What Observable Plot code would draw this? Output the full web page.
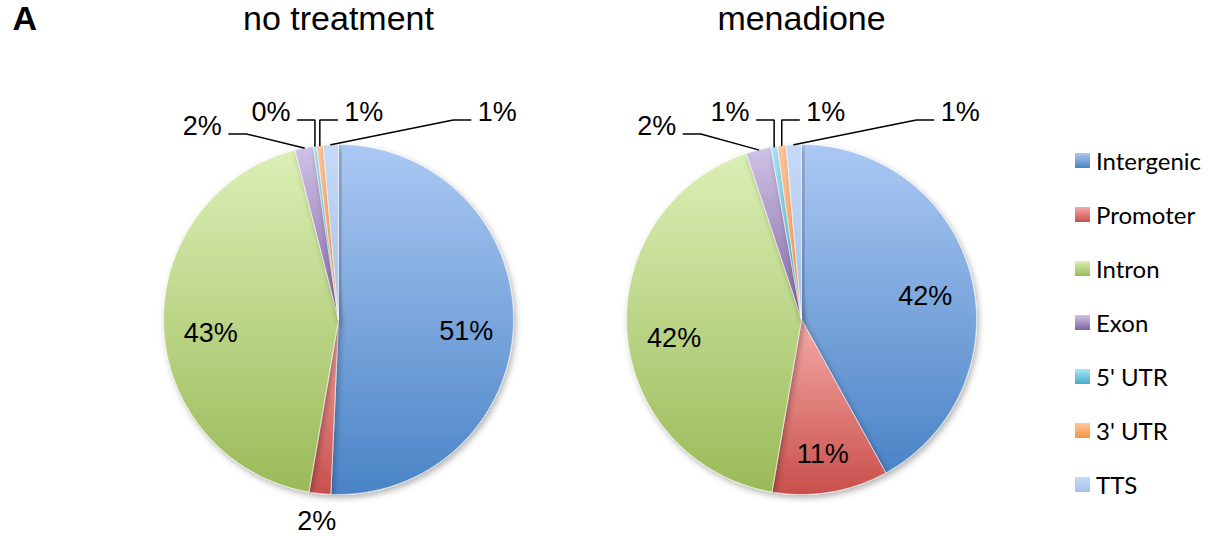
<!DOCTYPE html>
<html><head><meta charset="utf-8">
<script src="https://cdn.jsdelivr.net/npm/d3@7"></script>
<script src="https://cdn.jsdelivr.net/npm/@observablehq/plot@0.6"></script>
<style>
body{margin:0;background:#fff;}
#wrap{position:relative;width:1211px;height:536px;overflow:hidden;}
#legend{position:absolute;left:1075px;top:133px;font-family:Lato,"Open Sans",sans-serif;font-size:24px;color:#000;}
.item{display:flex;align-items:center;height:54px;}
.sw{width:15px;height:15px;margin-right:6px;flex:none;}
</style></head><body>
<div id="wrap"><div id="chart"></div><div id="legend"></div></div>
<script>
// ---- data ----
const categories = ["Intergenic", "Promoter", "Intron", "Exon", "5' UTR", "3' UTR", "TTS"];
const noTreatment = [50.7, 2.0, 43.3, 1.7, 0.3, 0.6, 1.4];
const menadione   = [42.0, 10.7, 42.2, 2.3, 0.6, 0.8, 1.4];
const panelTitles = ["no treatment", "menadione"];
const panelLetter = "A";
const colorTop    = ["#abc8f3", "#f5aaa7", "#dcefb6", "#d0c3e6", "#a8e6f8", "#fdc69c", "#c6daf8"];
const colorBottom = ["#4a84c6", "#c84f4b", "#9aba58", "#7f63a1", "#47aac4", "#f69444", "#a7c1e6"];

// ---- layout (unit = pie radius) ----
const W = 1211, H = 536, R = 175;
const cx0 = 338, cy0 = 319;          // pixel center of first pie
const pieCenters = [0, 463 / R];      // x of pie centers in radius units
const xDomain = [-cx0 / R, (W - cx0) / R];
const yDomain = [-(H - cy0) / R, cy0 / R];

const panels = [noTreatment, menadione];
const slices = [], leaders = [], labels = [], titles = [];

panels.forEach((vals, p) => {
  const cx = pieCenters[p];
  const total = d3.sum(vals);
  let acc = 0;
  const info = [];
  vals.forEach((v, i) => {
    const a0 = acc / total * 2 * Math.PI;
    acc += v;
    const a1 = acc / total * 2 * Math.PI;
    const pts = [{x: cx, y: 0}];
    const n = Math.max(2, Math.ceil((a1 - a0) / 0.01));
    for (let k = 0; k <= n; k++) {
      const a = a0 + (a1 - a0) * k / n;
      pts.push({x: cx + Math.sin(a), y: Math.cos(a)});
    }
    pts.push({x: cx, y: 0});
    slices.push({p, i, pts});
    info.push({i, v, pct: v / total * 100, mid: (a0 + a1) / 2});
  });
  // labels
  const topSmall = [];
  info.forEach(d => {
    const txt = Math.round(d.pct) + "%";
    if (d.pct >= 5) {
      labels.push({x: cx + 0.73 * Math.sin(d.mid), y: 0.73 * Math.cos(d.mid) - 0.05, text: txt, anchor: "middle"});
    } else if (Math.cos(d.mid) > 0.5) {
      topSmall.push({...d, txt});
    } else {
      labels.push({x: cx + 1.16 * Math.sin(d.mid), y: 1.16 * Math.cos(d.mid), text: txt, anchor: "middle"});
    }
  });
  // callouts for small slices near the top
  topSmall.sort((a, b) => Math.sin(a.mid) - Math.sin(b.mid));
  const half = Math.ceil(topSmall.length / 2);
  topSmall.forEach((d, k) => {
    const dir = k < half ? -1 : 1;
    const outer = (k === 0) || (k === topSmall.length - 1);
    const ax = cx + Math.sin(d.mid), ay = Math.cos(d.mid);
    const bx = ax + (outer ? dir * (dir < 0 ? 0.33 : 0.7) : 0);
    const by = outer && dir < 0 ? 1.06 : 1.14;
    const ex = bx + dir * 0.1;
    const id = `${p}-${d.i}`;
    leaders.push({id, x: ax, y: ay}, {id, x: bx, y: by}, {id, x: ex, y: by});
    labels.push({x: ex + dir * 0.04, y: by + 0.045, text: d.txt, anchor: dir < 0 ? "end" : "start"});
  });
  titles.push({x: cx, text: panelTitles[p]});
});

const sliceMarks = slices.map(s =>
  Plot.line(s.pts, {x: "x", y: "y", fill: `url(#grad${s.i})`, stroke: "#ffffff", strokeWidth: 0.7, strokeOpacity: 0.8, curve: "linear"})
);

const chart = Plot.plot({
  width: W, height: H,
  marginTop: 0, marginRight: 0, marginBottom: 0, marginLeft: 0,
  x: {domain: xDomain, axis: null},
  y: {domain: yDomain, axis: null},
  style: {background: "#fff"},
  marks: [
    ...sliceMarks,
    Plot.line(leaders, {x: "x", y: "y", z: "id", stroke: "#000", strokeWidth: 1.5, strokeLinejoin: "miter", curve: "linear"}),
    Plot.text(labels.filter(d => d.anchor === "middle"), {x: "x", y: "y", text: "text", fontSize: 27, fontFamily: "Liberation Sans, Arial, sans-serif", fill: "#000"}),
    Plot.text(labels.filter(d => d.anchor === "end"), {x: "x", y: "y", text: "text", textAnchor: "end", fontSize: 27, fontFamily: "Liberation Sans, Arial, sans-serif", fill: "#000"}),
    Plot.text(labels.filter(d => d.anchor === "start"), {x: "x", y: "y", text: "text", textAnchor: "start", fontSize: 27, fontFamily: "Liberation Sans, Arial, sans-serif", fill: "#000"}),
    Plot.text(titles, {x: "x", frameAnchor: "top", dy: 5, text: "text", fontSize: 34, fontFamily: "Liberation Sans, Arial, sans-serif", fill: "#000"}),
    Plot.text([panelLetter], {frameAnchor: "top-left", dx: 12, dy: 5, text: d => d, fontSize: 34, fontWeight: "bold", fontFamily: "Liberation Sans, Arial, sans-serif", fill: "#000"})
  ]
});

// gradients + shadow
const svg = d3.select(chart);
const defs = svg.insert("defs", ":first-child");
categories.forEach((c, i) => {
  const g = defs.append("linearGradient").attr("id", `grad${i}`).attr("x1", 0).attr("y1", 0).attr("x2", 0).attr("y2", 1);
  g.append("stop").attr("offset", "0%").attr("stop-color", colorTop[i]);
  g.append("stop").attr("offset", "100%").attr("stop-color", colorBottom[i]);
});
const f = defs.append("filter").attr("id", "pieshadow").attr("x", "-20%").attr("y", "-20%").attr("width", "140%").attr("height", "140%");
f.append("feDropShadow").attr("dx", 2).attr("dy", 3).attr("stdDeviation", 3).attr("flood-color", "#000").attr("flood-opacity", 0.3);
svg.selectAll("g[aria-label=line]").filter((d, k, nodes) => k < slices.length).attr("filter", "url(#pieshadow)");

document.getElementById("chart").appendChild(chart);

// legend
const legend = d3.select("#legend");
categories.forEach((c, i) => {
  const it = legend.append("div").attr("class", "item");
  it.append("div").attr("class", "sw").style("background", `linear-gradient(${colorTop[i]}, ${colorBottom[i]})`);
  it.append("span").text(c);
});
</script>
</body></html>
